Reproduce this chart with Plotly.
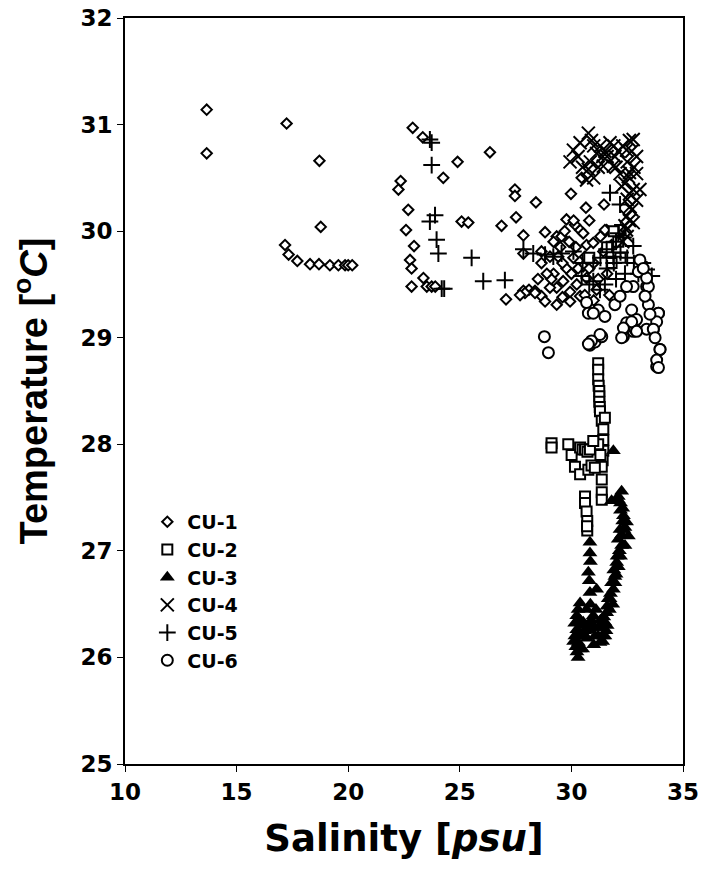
import plotly.graph_objects as go

# Salinity [psu] and temperature [°C] for each station
cu1_sal = [13.66, 13.66, 17.24, 18.71, 18.77, 17.17, 17.33, 17.72, 18.29, 18.69, 19.18, 19.56, 19.86, 20.0, 20.18,
           22.89, 23.34, 24.9, 26.35, 24.26, 22.35, 22.25, 22.69, 22.59, 22.95, 22.77, 22.84, 22.84, 23.37, 23.52,
           23.74, 23.9, 25.08, 25.38, 26.87, 27.47, 27.47, 27.52, 27.85, 28.41, 29.98, 30.65, 31.46, 30.46, 27.07,
           27.85, 28.1, 28.37, 28.82, 29.34, 30.39, 27.85, 28.66, 28.66, 29.04, 29.41, 29.78, 29.63, 29.34, 29.04,
           28.66, 28.37, 27.92, 27.7, 28.82, 29.34, 29.94, 29.94, 30.24, 30.39, 30.53, 30.09, 30.68, 29.78, 30.16,
           30.53, 29.56, 31.58, 30.98, 31.5, 31.43, 31.8, 30.61, 30.68, 31.13, 29.2, 29.5, 29.7, 29.9, 30.2, 30.0,
           30.3, 30.8, 31.0, 31.2, 31.0, 30.6, 29.6, 30.8, 29.1, 28.9, 29.2, 28.5, 31.3, 31.6, 31.7, 30.1, 29.6]
cu1_temp = [31.14, 30.73, 31.01, 30.66, 30.04, 29.87, 29.78, 29.72, 29.69, 29.69, 29.68, 29.68, 29.68, 29.68, 29.68,
            30.97, 30.88, 30.65, 30.74, 30.50, 30.47, 30.39, 30.20, 30.01, 29.86, 29.73, 29.65, 29.48, 29.56, 29.48,
            29.48, 29.48, 30.09, 30.08, 30.05, 30.39, 30.33, 30.13, 29.96, 30.27, 30.35, 30.22, 30.25, 30.50, 29.36,
            29.44, 29.45, 29.44, 29.99, 29.95, 30.01, 29.79, 29.81, 29.70, 29.76, 29.76, 29.65, 29.53, 29.47, 29.47,
            29.39, 29.42, 29.42, 29.40, 29.34, 29.31, 29.34, 29.43, 29.50, 29.39, 29.67, 29.75, 29.87, 30.11, 30.06,
            29.98, 29.95, 30.01, 29.89, 30.01, 29.81, 29.87, 29.76, 29.56, 29.45, 29.60, 29.85, 30.0, 29.9, 29.85, 29.6,
            29.65, 29.65, 29.7, 29.55, 29.35, 29.4, 29.38, 30.1, 29.55, 29.6, 29.9, 29.55, 29.95, 29.6, 29.4, 30.1, 29.7]

cu2_sal = [31.2, 31.2, 31.2, 31.22, 31.25, 31.25, 31.25, 31.27, 31.28, 31.36, 31.43, 31.43, 31.43, 31.4, 31.36,
           31.36, 31.36, 31.36, 31.2, 31.3, 31.5, 29.11, 29.11, 29.86, 30.01, 30.39, 30.5, 30.61, 30.72, 30.83,
           30.98, 30.16, 30.39, 30.76, 30.9, 31.05, 30.61, 30.61, 30.68, 30.71, 30.71, 30.7, 32.18, 31.9, 32.1,
           31.6, 32.2, 30.8, 31.8]
cu2_temp = [28.76, 28.70, 28.61, 28.55, 28.50, 28.45, 28.40, 28.35, 28.31, 28.22, 28.14, 28.04, 27.94, 27.85, 27.79,
            27.67, 27.55, 27.48, 28.0, 27.9, 28.25, 28.01, 27.97, 28.0, 27.9, 27.97, 27.95, 27.95, 27.93, 27.95,
            28.03, 27.79, 27.72, 27.76, 27.8, 27.78, 27.51, 27.45, 27.37, 27.28, 27.19, 27.23, 30.01, 30.0, 29.9,
            29.85, 29.75, 29.75, 29.7]

cu3_sal = [32.25, 32.1, 32.33, 32.18, 32.1, 32.25, 32.03, 31.95, 31.88, 31.73, 31.58, 31.5, 31.13, 30.83, 30.68,
           30.39, 30.24, 30.24, 30.31, 30.39, 30.16, 30.83, 31.06, 31.28, 31.43, 30.83, 30.83, 30.76, 32.47, 32.55,
           31.8, 30.98, 30.53, 31.88, 32.1, 32.2, 32.3, 32.35, 32.4, 32.2, 32.1, 31.95, 31.85, 31.7, 31.6, 31.5,
           31.4, 31.2, 31.0, 30.9, 30.7, 30.5, 30.4, 30.3, 30.2, 30.25, 31.3, 31.65, 30.85,
           32.2, 32.3, 32.15, 32.05, 32.25, 32.4, 31.9, 31.8, 31.75, 31.6, 31.45, 31.35, 31.1, 30.95, 30.6,
           30.45, 30.35, 30.15, 30.1, 30.3, 30.5, 30.7, 31.0, 31.2, 31.55, 32.0, 30.85, 30.8]
cu3_temp = [27.56, 27.48, 27.33, 27.20, 27.11, 27.05, 26.89, 26.76, 26.64, 26.55, 26.42, 26.33, 26.64, 26.61, 26.45,
            26.51, 26.39, 26.26, 26.14, 26.08, 26.20, 26.26, 26.20, 26.14, 26.20, 27.08, 26.98, 26.80, 27.27, 27.14,
            27.47, 26.39, 26.33, 27.94, 27.51, 27.45, 27.40, 27.20, 27.05, 26.95, 26.85, 26.70, 26.50, 26.45, 26.30,
            26.20, 26.15, 26.20, 26.28, 26.35, 26.30, 26.20, 26.35, 26.45, 26.10, 26.05, 26.35, 26.55, 26.50,
            27.38, 27.28, 27.00, 26.95, 27.15, 27.22, 26.82, 26.70, 26.60, 26.48, 26.38, 26.28, 26.45, 26.30, 26.25,
            26.30, 26.22, 26.32, 26.15, 26.00, 26.08, 26.18, 26.12, 26.28, 26.25, 26.78, 26.90, 26.72]

cu4_sal = [30.76, 29.94, 30.09, 30.39, 31.13, 31.73, 31.95, 32.77, 32.92, 32.47, 32.18, 32.77, 32.92, 32.63, 32.47,
           30.68, 30.76, 31.43, 31.88, 32.25, 32.55, 32.92, 33.07, 32.77, 32.47, 30.9, 31.0, 31.3, 31.5, 31.9,
           32.1, 32.3, 32.6, 32.7, 32.5, 32.6, 32.4, 32.6, 32.5, 32.7, 32.6, 32.4, 32.5, 32.3, 31.6, 31.2, 30.5,
           30.3, 31.0, 30.85, 31.4, 32.0, 32.8]
cu4_temp = [30.92, 30.65, 30.76, 30.83, 30.73, 30.83, 30.70, 30.86, 30.70, 30.76, 30.54, 30.39, 30.29, 30.23, 30.14,
            30.48, 30.58, 30.61, 30.61, 30.42, 30.51, 30.54, 30.39, 30.08, 30.01, 30.85, 30.80, 30.80, 30.75, 30.80,
            30.75, 30.80, 30.85, 30.75, 30.65, 30.55, 30.45, 30.35, 30.30, 30.20, 30.10, 30.05, 29.95, 29.90, 30.70,
            30.60, 30.60, 30.70, 30.50, 30.65, 30.70, 30.60, 30.60]

cu5_sal = [23.74, 23.66, 23.74, 23.89, 23.66, 23.96, 24.04, 24.19, 24.3, 25.53, 26.05, 27.02, 27.85, 28.29, 28.82,
           29.19, 29.56, 30.09, 30.46, 30.98, 31.28, 31.73, 32.18, 32.1, 32.33, 32.77, 33.37, 33.6, 30.98, 31.88,
           31.58, 32.0, 32.2, 32.5, 32.8, 33.0, 33.2, 31.6, 31.3, 30.8, 30.5, 31.5, 32.0, 31.9, 32.4]
cu5_temp = [30.83, 30.86, 30.62, 30.15, 30.09, 29.92, 29.79, 29.46, 29.46, 29.75, 29.53, 29.54, 29.83, 29.79, 29.78,
            29.76, 29.79, 29.81, 29.58, 29.70, 29.45, 30.36, 30.25, 29.98, 29.94, 29.86, 29.64, 29.58, 29.53, 29.76,
            29.83, 29.90, 29.80, 29.75, 29.70, 29.60, 29.70, 29.65, 29.75, 29.50, 29.70, 29.50, 29.55, 29.70, 29.60]

cu6_sal = [28.79, 28.97, 30.83, 31.06, 31.36, 32.33, 32.77, 30.68, 31.2, 31.5, 30.76, 31.95, 32.7, 32.85, 33.37,
           33.45, 33.67, 33.97, 33.82, 33.9, 32.47, 32.92, 33.37, 33.07, 33.0, 32.77, 32.47, 32.18, 30.98, 33.45,
           33.3, 33.9, 33.82, 32.7, 32.33, 32.92, 33.67, 33.75, 33.97, 33.82, 33.9, 31.28, 30.9, 30.76, 32.25,
           33.52, 33.37, 33.22]
cu6_temp = [29.01, 28.86, 28.93, 28.96, 29.01, 29.01, 29.06, 29.33, 29.26, 29.20, 29.23, 29.31, 29.26, 29.08, 29.48,
            29.31, 29.08, 28.89, 28.73, 29.23, 29.14, 29.17, 29.08, 29.73, 29.62, 29.48, 29.48, 29.39, 29.23, 29.48,
            29.39, 29.23, 29.15, 29.15, 29.09, 29.06, 29.08, 29.00, 28.89, 28.79, 28.72, 29.03, 28.97, 28.94, 29.00,
            29.22, 29.56, 29.65]

x_ticks = [10, 15, 20, 25, 30, 35]
y_ticks = [25, 26, 27, 28, 29, 30, 31, 32]

series = [
    ("CU-1", cu1_sal, cu1_temp, dict(symbol="diamond", size=8, color="white", line=dict(color="black", width=2))),
    ("CU-2", cu2_sal, cu2_temp, dict(symbol="square", size=10, color="white", line=dict(color="black", width=2))),
    ("CU-3", cu3_sal, cu3_temp, dict(symbol="triangle-up", size=13, color="black", line=dict(color="black", width=0))),
    ("CU-4", cu4_sal, cu4_temp, dict(symbol="x-thin", size=13, line=dict(color="black", width=2))),
    ("CU-5", cu5_sal, cu5_temp, dict(symbol="cross-thin", size=12, line=dict(color="black", width=2))),
    ("CU-6", cu6_sal, cu6_temp, dict(symbol="circle", size=11, color="white", line=dict(color="black", width=2))),
]

fig = go.Figure()
for name, sal, temp, marker in series:
    fig.add_trace(go.Scatter(x=sal, y=temp, mode="markers", name=f"<b>{name}</b>", marker=marker,
                             legendgroup=name))

wide_font = "DejaVu Sans, sans-serif"
narrow_font = "Arial, Liberation Sans, sans-serif"
axis_common = dict(
    showgrid=False, zeroline=False, showline=True, linecolor="black", linewidth=2, mirror=True,
    ticks="outside", ticklen=6, tickwidth=1, tickcolor="black", automargin=False,
    tickfont=dict(family=wide_font, size=23, color="black"),
)

fig.update_layout(
    width=703, height=876,
    margin=dict(l=125, r=20, t=18, b=112),
    paper_bgcolor="white", plot_bgcolor="white",
    xaxis=dict(range=[10, 35], tickvals=x_ticks, ticktext=[f"<b>{v}</b>" for v in x_ticks],
               title=dict(text="<b>Salinity [<i>psu</i>]</b>", standoff=22,
                          font=dict(family=wide_font, size=37, color="black")),
               **axis_common),
    yaxis=dict(range=[25, 32], tickvals=y_ticks, ticktext=[f"<b>{v}</b>" for v in y_ticks],
               title=dict(text="<b>Temperature [<sup>o</sup><i>C</i>]</b>", standoff=21,
                          font=dict(family=narrow_font, size=38, color="black")),
               **axis_common),
    legend=dict(x=0.04, y=0.35, xanchor="left", yanchor="top", bgcolor="rgba(0,0,0,0)",
                font=dict(family=wide_font, size=19, color="black"),
                tracegroupgap=0, itemwidth=30),
    showlegend=True,
)

fig.write_html("out.html")
